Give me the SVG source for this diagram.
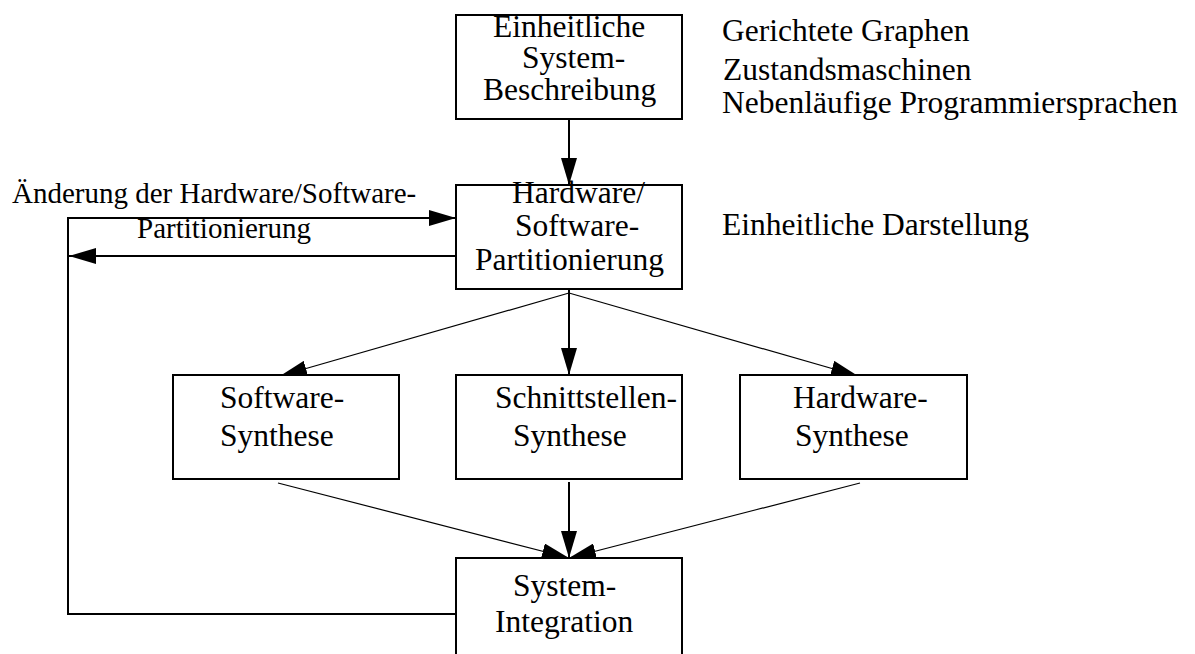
<svg xmlns="http://www.w3.org/2000/svg" width="1195" height="654" viewBox="0 0 1195 654">
  <style>
    .box { fill: #fff; stroke: #000; stroke-width: 2; }
    .t { font-family: "Liberation Serif", "Times New Roman", serif; font-size: 31.5px; fill: #000; }
    .lbl { font-family: "Liberation Serif", "Times New Roman", serif; font-size: 29px; fill: #000; }
    .thick { fill: none; stroke: #000; stroke-width: 2; }
    .thin { fill: none; stroke: #000; stroke-width: 1.2; }
  </style>
  <defs>
    <marker id="head" markerUnits="userSpaceOnUse" markerWidth="27" markerHeight="16" refX="27" refY="8" orient="auto" viewBox="0 0 27 16">
      <path d="M0,0 L27,8 L0,16 Z" fill="#000"/>
    </marker>
  </defs>

  <rect width="1195" height="654" fill="#fff"/>

  <!-- connectors -->
  <g id="connectors">
    <line class="thick" x1="569" y1="120" x2="569" y2="185" marker-end="url(#head)"/>
    <!-- feedback loop -->
    <polyline class="thick" points="456,614 68,614 68,218 456,218" marker-end="url(#head)"/>
    <line class="thick" x1="456" y1="256" x2="69" y2="256" marker-end="url(#head)"/>
    <!-- fan-out to synthesis steps -->
    <line class="thick" x1="569" y1="290" x2="569" y2="375" marker-end="url(#head)"/>
    <line class="thin" x1="569" y1="293" x2="280" y2="376" marker-end="url(#head)"/>
    <line class="thin" x1="569" y1="293" x2="858" y2="376" marker-end="url(#head)"/>
    <!-- fan-in to integration -->
    <line class="thick" x1="569" y1="482" x2="569" y2="558" marker-end="url(#head)"/>
    <line class="thin" x1="278" y1="483" x2="569" y2="558" marker-end="url(#head)"/>
    <line class="thin" x1="860" y1="483" x2="569" y2="558" marker-end="url(#head)"/>
  </g>

  <g id="beschreibung">
    <rect class="box" x="456" y="15" width="226" height="104"/>
    <text class="t" x="493" y="37">Einheitliche</text>
    <text class="t" x="522" y="68">System-</text>
    <text class="t" x="483" y="100">Beschreibung</text>
  </g>

  <g id="partitionierung">
    <rect class="box" x="456" y="185" width="226" height="104"/>
    <text class="t" x="512" y="203">Hardware/</text>
    <text class="t" x="515" y="236">Software-</text>
    <text class="t" x="475" y="270">Partitionierung</text>
  </g>

  <g id="software-synthese">
    <rect class="box" x="173" y="375" width="226" height="104"/>
    <text class="t" x="220" y="408">Software-</text>
    <text class="t" x="220" y="446">Synthese</text>
  </g>

  <g id="schnittstellen-synthese">
    <rect class="box" x="456" y="375" width="226" height="104"/>
    <text class="t" x="495" y="408">Schnittstellen-</text>
    <text class="t" x="513" y="446">Synthese</text>
  </g>

  <g id="hardware-synthese">
    <rect class="box" x="740" y="375" width="227" height="104"/>
    <text class="t" x="793" y="408">Hardware-</text>
    <text class="t" x="795" y="446">Synthese</text>
  </g>

  <g id="system-integration">
    <rect class="box" x="456" y="558" width="226" height="110"/>
    <text class="t" x="513" y="596">System-</text>
    <text class="t" x="495" y="632">Integration</text>
  </g>

  <g id="loop-label">
    <text class="lbl" x="12" y="203">Änderung der Hardware/Software-</text>
    <text class="lbl" x="137" y="238">Partitionierung</text>
  </g>

  <g id="annotations">
    <text class="t" x="722" y="41">Gerichtete Graphen</text>
    <text class="t" x="723" y="80">Zustandsmaschinen</text>
    <text class="t" x="722" y="113">Nebenläufige Programmiersprachen</text>
    <text class="t" x="722" y="235">Einheitliche Darstellung</text>
  </g>
</svg>
